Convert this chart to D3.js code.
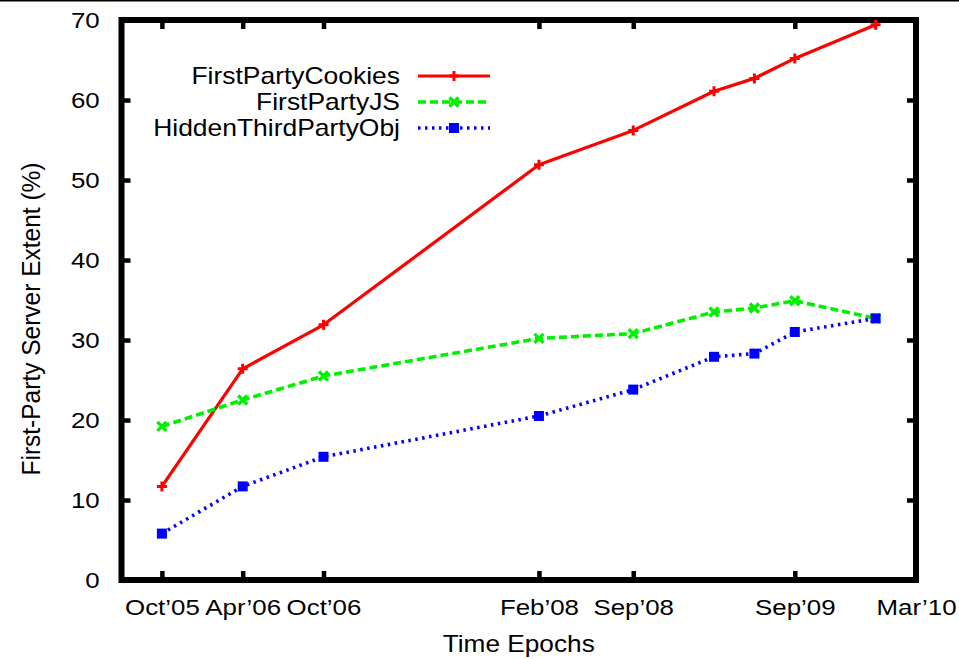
<!DOCTYPE html>
<html>
<head>
<meta charset="utf-8">
<script src="https://cdn.jsdelivr.net/npm/d3@7"></script>
<style>
  html, body { margin: 0; padding: 0; background: #fff; }
  svg { display: block; font-family: "Liberation Sans", Arial, Helvetica, sans-serif; }
</style>
</head>
<body>
<script>
// Epochs measured in months since Oct'05
const epochMonths = [0, 6, 12, 28, 35, 41, 44, 47, 53];

// Series values (%)
const firstPartyCookies = [11.7, 26.4, 31.9, 51.9, 56.2, 61.1, 62.7, 65.2, 69.4];
const firstPartyJS      = [19.2, 22.5, 25.5, 30.2, 30.8, 33.5, 34.0, 34.9, 32.7];
const hiddenThirdParty  = [5.8, 11.7, 15.4, 20.5, 23.8, 27.9, 28.3, 31.0, 32.7];

const seriesNames = ["FirstPartyCookies", "FirstPartyJS", "HiddenThirdPartyObj"];

// Axis ticks
const xTickMonths = [0, 6, 12, 28, 35, 47, 56];
const xTickLabels = ["Oct\u201905", "Apr\u201906", "Oct\u201906", "Feb\u201908", "Sep\u201908", "Sep\u201909", "Mar\u201910"];
const yTickValues = [0, 10, 20, 30, 40, 50, 60, 70];

const W = 959, H = 659;
const plotL = 121.5, plotR = 916, plotT = 20, plotB = 580;
const fontPx = 22.5, stretch = 1.15;

const svg = d3.select("body").append("svg").attr("width", W).attr("height", H);

const x = d3.scaleLinear().domain([-3, 56]).range([plotL, plotR]);
const y = d3.scaleLinear().domain([0, 70]).range([plotB, plotT]);

// thin rule across the top edge
svg.append("line").attr("x1", 0).attr("x2", W).attr("y1", 0.75).attr("y2", 0.75)
  .attr("stroke", "#000").attr("stroke-width", 1.5);

function styleAxis(g, showText) {
  g.attr("font-family", null).attr("font-size", null);
  g.select(".domain").remove();
  g.selectAll(".tick line").attr("stroke", "#000").attr("stroke-width", 4.5);
  g.selectAll(".tick text")
    .attr("fill", "#000")
    .style("font-size", fontPx + "px")
    .attr("transform", `scale(${stretch},1)`);
  if (!showText) g.selectAll(".tick text").remove();
}

// bottom axis with labels
svg.append("g").attr("transform", `translate(0,${plotB})`)
  .call(d3.axisBottom(x).tickValues(xTickMonths).tickFormat((d, i) => xTickLabels[i])
    .tickSizeInner(-9).tickSizeOuter(0).tickPadding(19))
  .call(g => styleAxis(g, true));

// top mirror ticks
svg.append("g").attr("transform", `translate(0,${plotT})`)
  .call(d3.axisTop(x).tickValues(xTickMonths.slice(0, -1)).tickFormat("").tickSizeInner(-9).tickSizeOuter(0))
  .call(g => styleAxis(g, false));

// left axis with labels
svg.append("g").attr("transform", `translate(${plotL},0)`)
  .call(d3.axisLeft(y).tickValues(yTickValues).tickFormat(d3.format("d"))
    .tickSizeInner(-9).tickSizeOuter(0).tickPadding(19))
  .call(g => styleAxis(g, true));

// right mirror ticks
svg.append("g").attr("transform", `translate(${plotR},0)`)
  .call(d3.axisRight(y).tickValues(yTickValues.slice(1, -1)).tickFormat("").tickSizeInner(-9).tickSizeOuter(0))
  .call(g => styleAxis(g, false));

// plot frame
svg.append("rect").attr("x", plotL).attr("y", plotT)
  .attr("width", plotR - plotL).attr("height", plotB - plotT)
  .attr("fill", "none").attr("stroke", "#000").attr("stroke-width", 6);

// axis titles
svg.append("text")
  .attr("transform", `translate(${(plotL + plotR) / 2},652) scale(1.14,1)`)
  .attr("text-anchor", "middle").style("font-size", "23px")
  .text("Time Epochs");

svg.append("text")
  .attr("transform", `translate(40,319) scale(1.03,1) rotate(-90)`)
  .attr("text-anchor", "middle").style("font-size", "24.5px")
  .text("First-Party Server Extent (%)");

// series styles
const styles = [
  { color: "#ff0000", dash: null, width: 3.2, marker: "plus" },
  { color: "#00f000", dash: "8,4", width: 3.6, marker: "cross" },
  { color: "#0000ff", dash: "2.5,4.5", width: 3.6, marker: "square" }
];
const values = [firstPartyCookies, firstPartyJS, hiddenThirdParty];

function drawMarker(g, kind, cx, cy, color) {
  if (kind === "plus") {
    g.append("path").attr("d", `M${cx - 5},${cy}H${cx + 5}M${cx},${cy - 5}V${cy + 5}`)
      .attr("stroke", color).attr("stroke-width", 3).attr("fill", "none");
  } else if (kind === "cross") {
    g.append("path").attr("d", `M${cx - 4.5},${cy - 4.5}L${cx + 4.5},${cy + 4.5}M${cx - 4.5},${cy + 4.5}L${cx + 4.5},${cy - 4.5}`)
      .attr("stroke", color).attr("stroke-width", 3.4).attr("fill", "none");
  } else {
    g.append("rect").attr("x", cx - 5).attr("y", cy - 5).attr("width", 10).attr("height", 10)
      .attr("fill", color);
  }
}

const line = d3.line().x(d => x(d.m)).y(d => y(d.v));

values.forEach((vals, si) => {
  const st = styles[si];
  const pts = epochMonths.map((m, i) => ({ m, v: vals[i] }));
  const g = svg.append("g");
  g.append("path").datum(pts).attr("d", line)
    .attr("fill", "none").attr("stroke", st.color).attr("stroke-width", st.width)
    .attr("stroke-dasharray", st.dash).attr("stroke-linejoin", "round");
  pts.forEach(p => drawMarker(g, st.marker, x(p.m), y(p.v), st.color));
});

// legend
const legendRows = [76, 102, 128];
seriesNames.forEach((name, i) => {
  const st = styles[i];
  const ly = legendRows[i];
  svg.append("text")
    .attr("transform", `translate(400,${ly + 8}) scale(1.15,1)`)
    .attr("text-anchor", "end").style("font-size", "23px")
    .text(name);
  const g = svg.append("g");
  g.append("line").attr("x1", 418).attr("x2", 490).attr("y1", ly).attr("y2", ly)
    .attr("stroke", st.color).attr("stroke-width", st.width).attr("stroke-dasharray", st.dash);
  drawMarker(g, st.marker, 454, ly, st.color);
});
</script>
</body>
</html>
